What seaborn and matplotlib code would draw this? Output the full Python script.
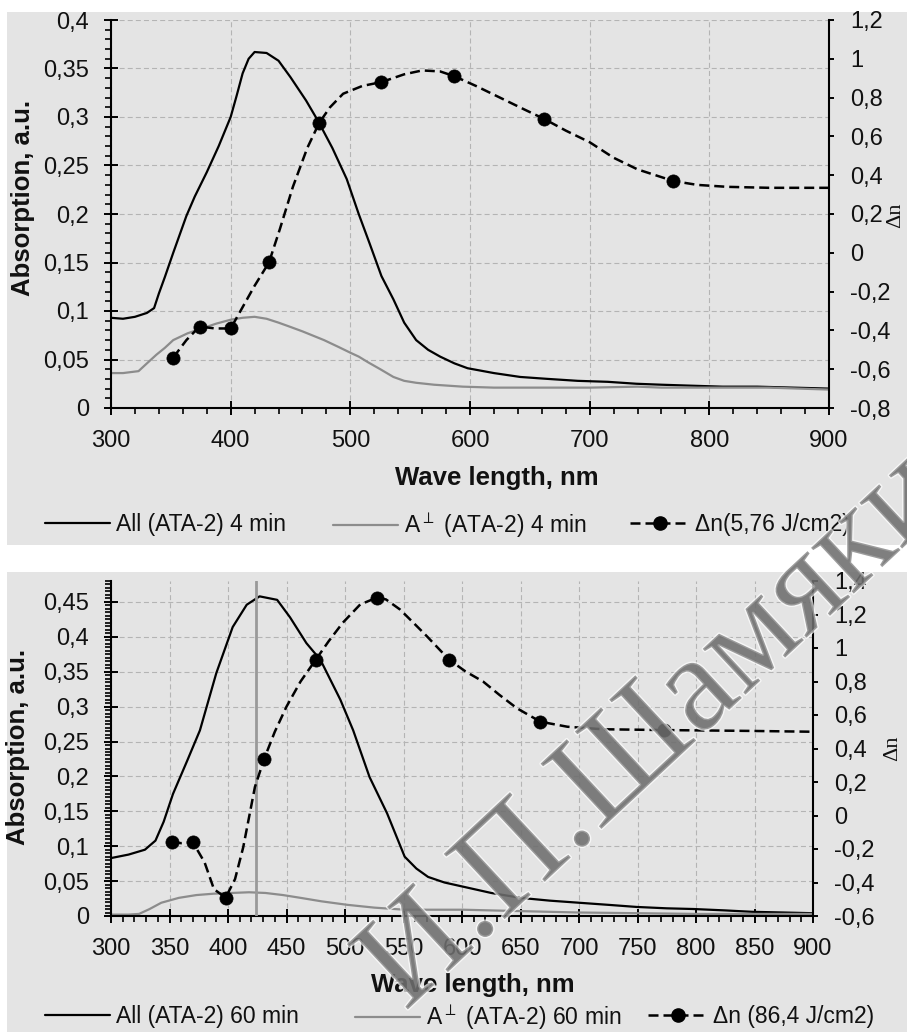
import numpy as np
import pandas as pd
import matplotlib
matplotlib.use("Agg")
import matplotlib.pyplot as plt
import matplotlib.patheffects as pe
import seaborn as sns
from matplotlib.ticker import MultipleLocator, FuncFormatter
from matplotlib.lines import Line2D
from matplotlib.patches import Rectangle

# ---------------- data: top panel (4 min) ----------------
top_par_wl = [300, 310, 320, 330, 336, 340, 345, 352, 363, 370, 380, 390, 400, 405, 410, 415,
              420, 430, 440, 450, 463, 473, 485, 497, 507, 516, 526, 536, 545, 555, 565, 575,
              587, 598, 620, 642, 665, 690, 715, 739, 760, 785, 811, 840, 870, 900]
top_par_val = [0.093, 0.092, 0.094, 0.098, 0.103, 0.118, 0.135, 0.160, 0.198, 0.218, 0.243, 0.270,
               0.300, 0.322, 0.345, 0.360, 0.367, 0.366, 0.358, 0.341, 0.317, 0.296, 0.268, 0.236,
               0.200, 0.170, 0.136, 0.112, 0.088, 0.070, 0.060, 0.053, 0.046, 0.041, 0.036, 0.032,
               0.030, 0.028, 0.027, 0.025, 0.024, 0.023, 0.022, 0.022, 0.021, 0.020]

top_perp_wl = [300, 310, 323, 330, 338, 345, 352, 364, 376, 388, 400, 410, 420, 430, 440, 449,
               460, 470, 478, 490, 500, 507, 515, 525, 536, 545, 555, 570, 594, 620, 660, 700,
               740, 760, 800, 850, 900]
top_perp_val = [0.036, 0.036, 0.038, 0.046, 0.055, 0.062, 0.070, 0.077, 0.082, 0.087, 0.091, 0.093,
                0.094, 0.092, 0.088, 0.084, 0.079, 0.074, 0.070, 0.063, 0.057, 0.053, 0.047, 0.040,
                0.032, 0.028, 0.026, 0.024, 0.022, 0.021, 0.021, 0.021, 0.022, 0.021, 0.021, 0.021,
                0.019]

top_dn_wl = [352, 374, 400, 432, 474, 526, 587, 662, 770]
top_dn_val = [-0.54, -0.38, -0.39, -0.05, 0.67, 0.88, 0.91, 0.69, 0.37]

top_dn_curve_wl = [352, 363, 374, 387, 400, 410, 420, 432, 441, 452, 464, 474, 483, 494, 510, 526,
                   545, 560, 575, 587, 605, 625, 645, 662, 680, 700, 720, 740, 770, 790, 815, 850, 900]
top_dn_curve_val = [-0.54, -0.45, -0.38, -0.39, -0.39, -0.28, -0.17, -0.05, 0.12, 0.34, 0.54, 0.67,
                    0.75, 0.82, 0.86, 0.88, 0.92, 0.94, 0.935, 0.91, 0.86, 0.80, 0.74, 0.69, 0.63,
                    0.57, 0.49, 0.43, 0.37, 0.35, 0.34, 0.335, 0.335]

# ---------------- data: bottom panel (60 min) ----------------
bot_par_wl = [300, 315, 329, 338, 345, 353, 365, 376, 390, 404, 416, 427, 442, 453, 467, 479, 496,
              507, 521, 536, 551, 561, 571, 585, 601, 625, 650, 675, 700, 725, 749, 775, 798, 825,
              848, 875, 900]
bot_par_val = [0.083, 0.088, 0.095, 0.108, 0.135, 0.175, 0.222, 0.266, 0.348, 0.414, 0.446, 0.458,
               0.453, 0.428, 0.391, 0.367, 0.310, 0.266, 0.199, 0.147, 0.085, 0.068, 0.056, 0.048,
               0.042, 0.033, 0.026, 0.022, 0.019, 0.016, 0.013, 0.011, 0.010, 0.008, 0.006, 0.005,
               0.004]

bot_perp_wl = [300, 315, 324, 333, 343, 358, 373, 388, 403, 418, 432, 447, 462, 480, 502, 525, 551,
               575, 601, 625, 650, 700, 750, 800, 850, 900]
bot_perp_val = [0.002, 0.002, 0.003, 0.010, 0.019, 0.026, 0.030, 0.032, 0.033, 0.034, 0.033, 0.030,
                0.026, 0.021, 0.016, 0.012, 0.009, 0.009, 0.009, 0.008, 0.007, 0.005, 0.004, 0.003,
                0.003, 0.003]

bot_dn_wl = [352, 370, 398, 431, 475, 527, 589, 667, 773]
bot_dn_val = [-0.16, -0.16, -0.49, 0.34, 0.93, 1.30, 0.93, 0.56, 0.51]

bot_dn_curve_wl = [352, 360, 370, 380, 388, 398, 406, 413, 423, 431, 440, 450, 462, 475, 486, 498,
                   513, 527, 535, 547, 560, 570, 589, 603, 618, 632, 647, 667, 690, 720, 773, 846, 900]
bot_dn_curve_val = [-0.16, -0.165, -0.16, -0.28, -0.44, -0.49, -0.38, -0.19, 0.17, 0.34, 0.50, 0.65,
                    0.80, 0.93, 1.04, 1.15, 1.26, 1.30, 1.29, 1.23, 1.14, 1.07, 0.93, 0.86, 0.80,
                    0.72, 0.64, 0.56, 0.53, 0.515, 0.51, 0.505, 0.50]

bot_marker_wl = 424

top_labels = ["All (ATA-2) 4 min", r"A$^{\perp}$ (ATA-2) 4 min", "Δn(5,76 J/cm2)"]
bot_labels = ["All (ATA-2) 60 min", r"A$^{\perp}$ (ATA-2) 60 min", "Δn (86,4 J/cm2)"]
xlabel = "Wave length, nm"
ylabel = "Absorption, a.u."
ylabel2 = "Δn"
watermark = "И.П.Шамякина"

# ---------------- styling ----------------
sns.set_theme(style="white")
plt.rcParams['font.family'] = ['Liberation Sans', 'DejaVu Sans']
plt.rcParams['mathtext.fontset'] = 'dejavusans'

W, H = 907, 1032
fig = plt.figure(figsize=(W / 100, H / 100), dpi=100, facecolor='white')

BG = '#e4e4e4'
GREY = '#8c8c8c'
TICK_FS = 17
LAB_FS = 18.5
LEG_FS = 16.5

for (y0, y1) in [(12, 545), (572, 1032)]:
    fig.patches.append(Rectangle((7 / W, 1 - y1 / H), (W - 7) / W, (y1 - y0) / H,
                                 transform=fig.transFigure, facecolor=BG, edgecolor='none',
                                 zorder=-5))


def comma(v, pos=None):
    s = f"{v:.3f}".rstrip('0').rstrip('.')
    if s in ('-0', ''):
        s = '0'
    return s.replace('.', ',')


def make_panel(rect, par_wl, par_val, perp_wl, perp_val, dn_wl, dn_val, cwl, cval,
               ylim, y2lim, xmaj, xmin, ymin):
    ax = fig.add_axes(rect)
    ax.set_facecolor('none')
    sns.lineplot(x=par_wl, y=par_val, ax=ax, color='black', lw=1.6)
    sns.lineplot(x=perp_wl, y=perp_val, ax=ax, color=GREY, lw=1.6)
    ax.set_xlim(300, 900)
    ax.set_ylim(*ylim)
    ax.xaxis.set_major_locator(MultipleLocator(xmaj))
    ax.xaxis.set_minor_locator(MultipleLocator(xmin))
    ax.yaxis.set_major_locator(MultipleLocator(0.05))
    ax.yaxis.set_minor_locator(MultipleLocator(ymin))
    ax.yaxis.set_major_formatter(FuncFormatter(comma))
    ax.xaxis.set_major_formatter(FuncFormatter(lambda v, p: f"{v:.0f}"))
    ax.grid(True, which='major', color='#b4b4b4', lw=0.8, ls=(0, (4.5, 2.8)))
    ax.set_axisbelow(True)
    for s in ['top', 'right']:
        ax.spines[s].set_visible(False)
    for s in ['left', 'bottom']:
        ax.spines[s].set_color('black')
        ax.spines[s].set_linewidth(1.5)
    ax.tick_params(which='major', direction='inout', length=9.4, width=1.4, color='black',
                   pad=11, labelsize=TICK_FS, labelcolor='#111111', left=True, bottom=True)
    ax.tick_params(which='minor', direction='out', length=4.3, width=1.2, color='black',
                   left=True, bottom=True)
    ax.set_xlabel('')
    ax.set_ylabel('')

    ax2 = ax.twinx()
    ax2.set_facecolor('none')
    sns.lineplot(x=cwl, y=cval, ax=ax2, color='black', lw=1.8)
    ax2.lines[-1].set_dashes((4, 2))
    sns.scatterplot(x=dn_wl, y=dn_val, ax=ax2, color='black', s=90, edgecolor='black',
                    linewidth=0.5, zorder=5)
    ax2.set_ylim(*y2lim)
    ax2.yaxis.set_major_locator(MultipleLocator(0.2))
    ax2.yaxis.set_major_formatter(FuncFormatter(comma))
    for s in ['top', 'left', 'bottom']:
        ax2.spines[s].set_visible(False)
    ax2.spines['right'].set_color('black')
    ax2.spines['right'].set_linewidth(1.5)
    ax2.tick_params(axis='y', which='major', direction='out', length=3.6, width=1.4,
                    color='black', pad=11.5, labelsize=TICK_FS, right=True, labelcolor='#111111')
    ax2.grid(False)
    ax2.set_ylabel('')
    return ax, ax2


axT, axT2 = make_panel([111 / W, 1 - 408 / H, 718 / W, 388 / H],
                       top_par_wl, top_par_val, top_perp_wl, top_perp_val,
                       top_dn_wl, top_dn_val, top_dn_curve_wl, top_dn_curve_val,
                       (0, 0.4), (-0.8, 1.2), 100, 20, 0.01)
axB, axB2 = make_panel([111 / W, 1 - 916 / H, 702 / W, 335 / H],
                       bot_par_wl, bot_par_val, bot_perp_wl, bot_perp_val,
                       bot_dn_wl, bot_dn_val, bot_dn_curve_wl, bot_dn_curve_val,
                       (0, 0.48), (-0.6, 1.4), 50, 10, 0.005)
axB.axvline(bot_marker_wl, color='#999999', lw=2.0, zorder=3)

# axis titles
fig.text(497 / W, 1 - 478 / H, xlabel, ha='center', va='center', fontsize=LAB_FS,
         fontweight='bold', color='#111111')
fig.text(473 / W, 1 - 985 / H, xlabel, ha='center', va='center', fontsize=LAB_FS,
         fontweight='bold', color='#111111')
fig.text(23 / W, 1 - 198 / H, ylabel, ha='center', va='center', rotation=90,
         fontsize=LAB_FS, fontweight='bold', color='#111111')
fig.text(18 / W, 1 - 747 / H, ylabel, ha='center', va='center', rotation=90,
         fontsize=LAB_FS, fontweight='bold', color='#111111')
fig.text(896 / W, 1 - 215 / H, ylabel2, ha='center', va='center', rotation=90,
         fontsize=16, family=['Liberation Serif', 'DejaVu Serif'], color='#111111')
fig.text(893 / W, 1 - 748 / H, ylabel2, ha='center', va='center', rotation=90,
         fontsize=16, family=['Liberation Serif', 'DejaVu Serif'], color='#111111')

# legends
h_par = Line2D([], [], color='black', lw=1.6)
h_perp = Line2D([], [], color=GREY, lw=1.6)
h_dn = Line2D([], [], color='black', lw=1.8, ls=(0, (4, 2)), marker='o', ms=9.5)


def entry(handle, label, x_px, y_px, hl):
    fig.legend([handle], [label], loc='center left', bbox_to_anchor=(x_px / W, 1 - y_px / H),
               frameon=False, borderpad=0, borderaxespad=0, handlelength=hl,
               handletextpad=0.25, fontsize=LEG_FS, labelcolor='#111111')


entry(h_par, top_labels[0], 45, 525, 2.84)
entry(h_perp, top_labels[1], 333, 525, 2.84)
entry(h_dn, top_labels[2], 630, 525, 2.6)
entry(h_par, bot_labels[0], 45, 1017, 2.84)
entry(h_perp, bot_labels[1], 355, 1017, 2.84)
entry(h_dn, bot_labels[2], 648, 1017, 2.6)

# watermark
wm = fig.text(405 / W, 1 - 1012 / H, watermark, rotation=43, rotation_mode='anchor',
              ha='left', va='baseline', fontsize=98, color='#6e6e6e', alpha=0.6,
              family=['Liberation Serif', 'DejaVu Serif'], zorder=20)
wm.set_path_effects([pe.withStroke(linewidth=2.0, foreground='white', alpha=0.7)])

fig.savefig('out.png', dpi=100, facecolor='white')
